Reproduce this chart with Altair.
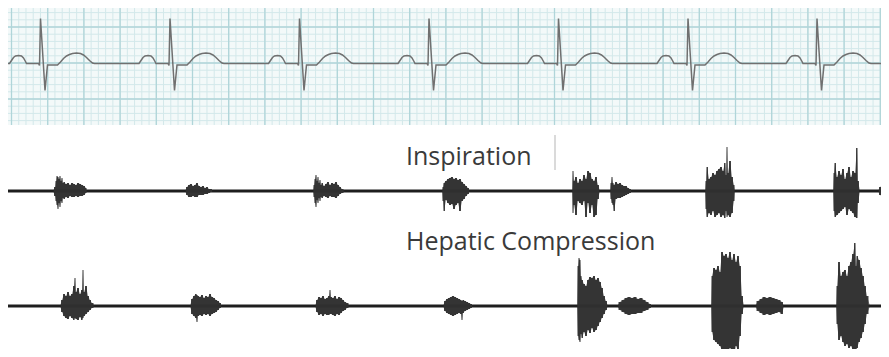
import altair as alt
import pandas as pd
import numpy as np

# ---------------- data ----------------
# ECG: R-peak times (same horizontal units as the strip) and one beat shape
r_peaks = [40.5, 170, 299.5, 429, 558.5, 688, 817]
beat_dt = [-31, -29, -27, -25, -22, -19, -17, -15, -14, -2, -1, 0, 4.5, 7, 17, 20, 23, 26, 29, 32, 36, 40, 43, 46, 49, 52, 54]
beat_mv = [0, 3, 6, 7.5, 8, 7.5, 5.5, 2, 0, 0, -2, 45, -27, -1.5, -1.5, 1.5, 5, 7.5, 9, 10, 10.5, 10, 8.5, 6, 3, 0.5, 0]
ecg_start, ecg_end = 7, 889

# Phonocardiogram bursts: list of x, upper amplitude, lower amplitude
insp_bursts = [
    ([53, 55, 56, 57, 58, 59, 60, 61, 62, 63, 64, 66, 68, 70, 72, 74, 76, 78, 80, 82, 84, 86, 87],
     [0, 4, 10, 15, 14, 12, 15, 10, 13, 8, 9, 7, 8, 6, 8, 7, 6, 8, 7, 6, 5, 3, 0],
     [0, 5, 10, 14, 18, 12, 16, 10, 12, 7, 8, 6, 7, 5, 6, 6, 5, 6, 5, 5, 4, 2, 0]),
    ([185, 187, 189, 191, 193, 195, 197, 199, 201, 203, 205, 207, 209, 211, 213],
     [0, 4, 6, 7, 5, 6, 8, 5, 4, 5, 3, 4, 2, 2, 0],
     [0, 4, 6, 6, 5, 6, 6, 4, 4, 4, 3, 3, 2, 1, 0]),
    ([313, 314, 315, 316, 317, 318, 319, 320, 321, 322, 324, 326, 328, 330, 332, 334, 336, 338, 340, 342, 345],
     [0, 6, 12, 16, 10, 14, 8, 11, 6, 8, 5, 7, 9, 6, 8, 7, 9, 6, 4, 2, 0],
     [0, 6, 12, 16, 9, 12, 7, 10, 6, 7, 5, 6, 7, 5, 6, 6, 7, 5, 3, 2, 0]),
    ([442, 443, 444, 446, 448, 450, 452, 454, 456, 458, 460, 462, 464, 466, 468, 470],
     [0, 4, 8, 10, 12, 13, 14, 12, 13, 11, 12, 9, 7, 5, 3, 0],
     [0, 10, 20, 9, 12, 14, 13, 18, 14, 12, 20, 10, 8, 5, 3, 0]),
    ([572, 573, 574, 576, 578, 580, 582, 584, 586, 588, 590, 592, 594, 596, 598, 600],
     [0, 20, 10, 14, 8, 12, 10, 16, 12, 20, 18, 12, 10, 14, 6, 0],
     [0, 22, 14, 24, 10, 12, 14, 10, 26, 12, 22, 14, 26, 24, 8, 0]),
    ([610, 611, 612, 613, 614, 616, 618, 620, 622, 624, 626, 628, 630, 632],
     [0, 8, 14, 8, 6, 9, 7, 8, 6, 5, 5, 3, 2, 0],
     [0, 8, 12, 14, 20, 8, 7, 7, 6, 5, 4, 3, 2, 0]),
    ([705, 706, 707, 709, 711, 713, 715, 717, 719, 721, 723, 725, 726, 727, 728, 730, 732, 734, 735],
     [0, 10, 24, 12, 14, 18, 16, 20, 22, 24, 20, 28, 16, 44, 18, 30, 14, 6, 0],
     [0, 18, 26, 22, 24, 20, 26, 24, 22, 26, 24, 27, 20, 26, 24, 26, 22, 10, 0]),
    ([833, 834, 835, 837, 839, 841, 843, 845, 847, 849, 851, 853, 855, 857, 858, 860],
     [0, 18, 28, 14, 20, 16, 22, 12, 18, 24, 14, 20, 18, 43, 10, 0],
     [0, 20, 26, 24, 22, 20, 18, 16, 24, 18, 20, 22, 26, 27, 12, 0]),
    ([878, 880, 882, 884, 886, 889],
     [0, 4, 5, 5, 4, 3],
     [0, 4, 5, 5, 4, 3]),
]

hep_bursts = [
    ([60, 62, 64, 66, 68, 70, 72, 74, 75, 76, 78, 80, 82, 83, 84, 86, 88, 90, 92, 95],
     [0, 6, 12, 10, 14, 10, 12, 20, 28, 14, 18, 12, 16, 36, 14, 20, 10, 6, 3, 0],
     [0, 6, 10, 12, 13, 10, 12, 14, 12, 13, 14, 11, 14, 12, 10, 8, 6, 4, 2, 0]),
    ([190, 192, 194, 196, 197, 198, 200, 202, 204, 206, 208, 210, 212, 214, 216, 218, 220, 222],
     [0, 7, 10, 12, 11, 10, 9, 11, 8, 10, 9, 12, 9, 8, 6, 5, 3, 0],
     [0, 8, 10, 12, 16, 10, 9, 10, 8, 9, 8, 10, 8, 7, 6, 4, 2, 0]),
    ([315, 317, 319, 321, 323, 325, 327, 329, 330, 331, 333, 335, 337, 339, 341, 343, 345, 347, 350],
     [0, 6, 9, 8, 10, 7, 8, 10, 16, 9, 8, 10, 7, 9, 8, 6, 4, 3, 0],
     [0, 6, 9, 8, 10, 8, 9, 9, 8, 8, 9, 10, 8, 9, 7, 5, 4, 2, 0]),
    ([443, 445, 447, 449, 451, 453, 455, 457, 459, 461, 462, 463, 465, 467, 469, 471, 473],
     [0, 5, 7, 8, 9, 10, 9, 8, 7, 6, 5, 6, 5, 4, 3, 2, 0],
     [0, 5, 7, 8, 9, 10, 9, 8, 7, 8, 14, 7, 5, 4, 3, 2, 0]),
    ([577, 578, 579, 580, 581, 582, 584, 586, 588, 590, 592, 594, 596, 598, 600, 602, 604, 606, 608],
     [0, 40, 48, 46, 30, 26, 22, 20, 26, 29, 28, 30, 26, 28, 24, 18, 10, 5, 0],
     [0, 30, 34, 36, 28, 32, 26, 30, 24, 27, 22, 26, 24, 20, 16, 12, 8, 4, 0]),
    ([617, 620, 623, 626, 629, 632, 635, 638, 641, 644, 647, 650, 652],
     [0, 4, 6, 8, 9, 8, 9, 7, 8, 6, 4, 2, 0],
     [0, 4, 6, 8, 9, 8, 8, 7, 7, 5, 4, 2, 0]),
    ([711, 712, 714, 716, 718, 720, 722, 724, 726, 728, 730, 732, 734, 736, 738, 740, 742, 744],
     [0, 30, 38, 36, 40, 34, 54, 50, 52, 48, 54, 46, 52, 44, 50, 40, 10, 0],
     [0, 26, 34, 36, 38, 40, 44, 49, 46, 48, 42, 46, 49, 40, 44, 30, 8, 0]),
    ([755, 758, 761, 764, 767, 770, 773, 776, 779, 782, 784],
     [0, 5, 7, 9, 8, 9, 8, 7, 6, 4, 0],
     [0, 5, 7, 9, 8, 9, 8, 7, 6, 8, 0]),
    ([836, 837, 839, 841, 843, 845, 847, 849, 851, 853, 855, 856, 857, 859, 861, 863, 865, 867, 870],
     [0, 20, 44, 30, 34, 36, 30, 40, 44, 52, 63, 40, 50, 46, 38, 30, 20, 10, 0],
     [0, 18, 34, 30, 36, 40, 38, 42, 40, 44, 46, 44, 42, 36, 32, 26, 18, 8, 0]),
]

labels = ["Inspiration", "Hepatic Compression"]

# ---------------- layout (reference-pixel frame) ----------------
ECG_BASE = 63.5
INSP_BASE = 191
HEP_BASE = 306
GRID_TOP, GRID_BOTTOM = 0, 125
X0, X1 = 0, 889

xs = alt.Scale(domain=[8, 881], nice=False, zero=False)
ys = alt.Scale(domain=[8, 349], nice=False, zero=False, reverse=True)

def X(f, **kw):
    return alt.X(f, type="quantitative", scale=xs, axis=None, **kw)

def Y(f, **kw):
    return alt.Y(f, type="quantitative", scale=ys, axis=None, **kw)

# grid paper
bg = pd.DataFrame({"x": [X0], "x2": [X1], "y": [GRID_TOP], "y2": [GRID_BOTTOM]})
major_step = 36.2
minor_step = major_step / 5
vx0 = 11.5
v_minor = [vx0 + minor_step * k for k in range(-2, 125)]
v_major = [vx0 + major_step * k for k in range(0, 25)]
h_minor = [27 + 7.2 * k for k in range(-4, 14) if 0 <= 27 + 7.2 * k <= GRID_BOTTOM]
h_major = [27, 63, 99]

vmin_df = pd.DataFrame({"x": v_minor, "y": GRID_TOP, "y2": GRID_BOTTOM})
vmaj_df = pd.DataFrame({"x": v_major, "y": GRID_TOP, "y2": GRID_BOTTOM})
hmin_df = pd.DataFrame({"y": h_minor, "x": X0, "x2": X1})
hmaj_df = pd.DataFrame({"y": h_major, "x": X0, "x2": X1})

bg_layer = alt.Chart(bg).mark_rect(color="#f3f9f9", clip=True).encode(
    x=X("x"), x2="x2", y=Y("y"), y2="y2")
vmin = alt.Chart(vmin_df).mark_rule(color="#d3e8ea", strokeWidth=1, clip=True).encode(
    x=X("x"), y=Y("y"), y2="y2")
hmin = alt.Chart(hmin_df).mark_rule(color="#d3e8ea", strokeWidth=1, clip=True).encode(
    y=Y("y"), x=X("x"), x2="x2")
vmaj = alt.Chart(vmaj_df).mark_rule(color="#b0d5d9", strokeWidth=1.3, clip=True).encode(
    x=X("x"), y=Y("y"), y2="y2")
hmaj = alt.Chart(hmaj_df).mark_rule(color="#b0d5d9", strokeWidth=1.3, clip=True).encode(
    y=Y("y"), x=X("x"), x2="x2")

# ECG trace
ex, ey = [ecg_start], [ECG_BASE]
for r in r_peaks:
    for dt, mv in zip(beat_dt, beat_mv):
        ex.append(r + dt)
        ey.append(ECG_BASE - mv)
ex.append(ecg_end)
ey.append(ECG_BASE)
ecg_df = pd.DataFrame({"t": ex, "v": ey, "o": range(len(ex))})
ecg = alt.Chart(ecg_df).mark_line(color="#707070", strokeWidth=1.5, clip=True).encode(
    x=X("t"), y=Y("v"), order="o:Q")

# phono baselines
base_df = pd.DataFrame({"y": [INSP_BASE, HEP_BASE], "x": X0, "x2": X1})
baselines = alt.Chart(base_df).mark_rule(color="#1e1e1e", strokeWidth=3.2, clip=True).encode(
    y=Y("y"), x=X("x"), x2="x2")

rows = []
for name, base, bursts in [("insp", INSP_BASE, insp_bursts), ("hep", HEP_BASE, hep_bursts)]:
    for i, (bx, up, dn) in enumerate(bursts):
        for xv, u, d in zip(bx, up, dn):
            rows.append({"b": f"{name}{i}", "x": xv, "top": base - u, "bot": base + d})
burst_df = pd.DataFrame(rows)
bursts_layer = alt.Chart(burst_df).mark_area(color="#3a3a3a", opacity=0.95, clip=True,
                                             interpolate="step").encode(
    x=X("x"), y=Y("top"), y2="bot", detail="b:N")
bursts_core = alt.Chart(burst_df).mark_area(color="#2a2a2a", opacity=0.6, clip=True,
                                            interpolate="linear").encode(
    x=X("x"), y=Y("top"), y2="bot", detail="b:N")

# labels
txt_df = pd.DataFrame({"label": labels, "x": [406, 406], "y": [165, 250]})
texts = alt.Chart(txt_df).mark_text(align="left", baseline="alphabetic", font="Open Sans",
                                    fontSize=25, color="#3a3a3a").encode(
    x=X("x"), y=Y("y"), text="label:N")

sep_df = pd.DataFrame({"x": [555], "y": [135], "y2": [170]})
sep = alt.Chart(sep_df).mark_rule(color="#b5b5b5", strokeWidth=1).encode(
    x=X("x"), y=Y("y"), y2="y2")

chart = alt.layer(bg_layer, vmin, hmin, vmaj, hmaj, ecg, baselines, bursts_layer, bursts_core, texts, sep).properties(
    width=873, height=341, padding=0,
    autosize=alt.AutoSizeParams(type="none"),
    background="white",
).configure_view(stroke=None)

chart.save("out.html", embed_options={"renderer": "svg", "actions": False})
